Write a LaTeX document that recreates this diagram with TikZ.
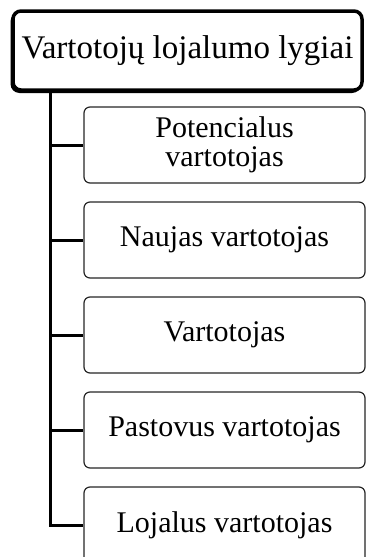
\documentclass[tikz,border=0pt]{standalone}
\usepackage{fontspec}
\setmainfont{Liberation Serif}
\begin{document}
\begin{tikzpicture}[x=1pt,y=-1pt,
  rootbox/.style={draw=black, line width=3.5pt, rounded corners=8pt, fill=white,
    minimum width=349pt, minimum height=79pt, inner sep=0pt,
    font=\fontsize{33}{40}\selectfont},
  levelbox/.style={draw=black!85, line width=1.2pt, rounded corners=6pt, fill=white,
    minimum width=281pt, minimum height=76pt, inner sep=0pt, align=center,
    font=\fontsize{30}{29}\selectfont},
  branch/.style={line width=3pt, black}]
  \useasboundingbox (0,0) rectangle (366,557);

  % shadow under the title box
  \fill[black, rounded corners=9pt] (10.5,12.5) rectangle (361,93);
  \node[rootbox] (root) at (187.5,50.5) {Vartotojų lojalumo lygiai};

  \node[levelbox] (b1) at (224.5,145) {Potencialus\\vartotojas};
  \node[levelbox] (b2) at (224.5,240) {Naujas vartotojas};
  \node[levelbox] (b3) at (224.5,335) {Vartotojas};
  \node[levelbox] (b4) at (224.5,430) {Pastovus vartotojas};
  \node[levelbox] (b5) at (224.5,525) {Lojalus vartotojas};

  % spine of the tree and its branches
  \coordinate (spine) at (50,0);
  \draw[branch] (spine |- root.south) -- (spine |- b5.west) -- (b5.west);
  \foreach \b in {b1,b2,b3,b4}
    \draw[branch] (spine |- \b.west) -- (\b.west);
\end{tikzpicture}
\end{document}
